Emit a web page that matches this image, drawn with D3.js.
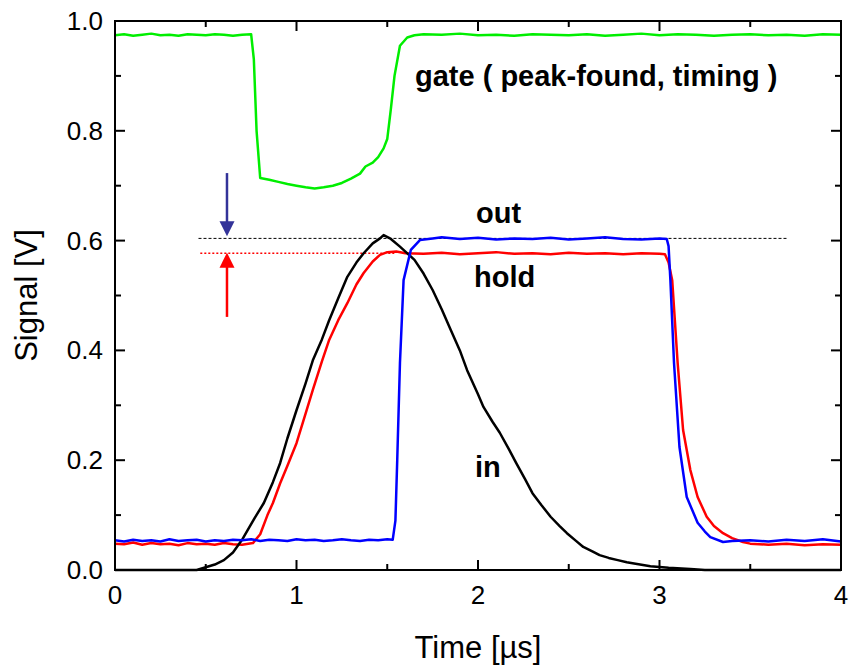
<!DOCTYPE html>
<html>
<head>
<meta charset="utf-8">
<script src="https://cdn.jsdelivr.net/npm/d3@7"></script>
<style>
  body { margin: 0; background: #fff; }
  svg { font-family: Arial, "Liberation Sans", sans-serif; }
  .lbl { font-weight: bold; font-size: 29px; fill: #000; }
</style>
</head>
<body>
<svg id="chart" width="850" height="668"></svg>
<script>
// axis ticks
var xTicks = [0, 1, 2, 3, 4];
var yTicks = [0.0, 0.2, 0.4, 0.6, 0.8, 1.0];

// gate (green)
var gateT = [0,0.05,0.1,0.15,0.2,0.25,0.3,0.35,0.4,0.45,0.5,0.55,0.6,0.65,0.7,0.75,0.765,0.78,0.8,0.85,0.9,0.95,1.0,1.05,1.1,1.15,1.2,1.25,1.3,1.35,1.38,1.42,1.45,1.48,1.5,1.52,1.54,1.57,1.61,1.65,1.7,1.8,1.9,2.0,2.1,2.2,2.3,2.4,2.5,2.6,2.7,2.8,2.9,3.0,3.1,3.2,3.3,3.4,3.5,3.6,3.7,3.8,3.9,4.0];
var gateV = [0.974,0.976,0.973,0.975,0.977,0.974,0.975,0.973,0.976,0.975,0.974,0.976,0.975,0.973,0.975,0.976,0.93,0.80,0.714,0.711,0.707,0.703,0.700,0.697,0.695,0.697,0.700,0.705,0.713,0.722,0.735,0.742,0.752,0.768,0.785,0.84,0.90,0.955,0.970,0.974,0.976,0.975,0.977,0.974,0.975,0.973,0.976,0.975,0.974,0.976,0.973,0.975,0.977,0.974,0.976,0.975,0.973,0.975,0.976,0.974,0.975,0.973,0.976,0.975];

// in (black)
var inT = [0,0.45,0.5,0.55,0.6,0.65,0.7,0.73,0.77,0.82,0.87,0.91,0.95,1.0,1.05,1.09,1.14,1.18,1.23,1.28,1.33,1.37,1.42,1.46,1.48,1.52,1.57,1.6,1.65,1.7,1.75,1.8,1.85,1.9,1.94,2.0,2.03,2.08,2.12,2.17,2.21,2.26,2.3,2.35,2.4,2.45,2.49,2.54,2.58,2.63,2.67,2.72,2.77,2.82,2.86,2.95,3.05,3.17,3.25,4.0];
var inV = [0,0,0.005,0.01,0.018,0.032,0.055,0.072,0.095,0.122,0.16,0.195,0.24,0.291,0.34,0.382,0.42,0.455,0.495,0.534,0.56,0.577,0.595,0.604,0.610,0.603,0.589,0.58,0.565,0.54,0.51,0.475,0.437,0.40,0.364,0.32,0.297,0.27,0.25,0.22,0.195,0.165,0.14,0.118,0.097,0.08,0.067,0.053,0.042,0.034,0.027,0.022,0.018,0.014,0.012,0.007,0.004,0.002,0,0];

// hold (red)
var holdT = [0,0.05,0.1,0.15,0.2,0.25,0.3,0.35,0.4,0.45,0.5,0.55,0.6,0.65,0.7,0.76,0.8,0.84,0.87,0.91,0.95,1.0,1.05,1.09,1.14,1.18,1.23,1.28,1.33,1.37,1.42,1.46,1.5,1.55,1.6,1.7,1.8,1.9,2.0,2.1,2.2,2.3,2.4,2.5,2.6,2.7,2.8,2.9,3.0,3.03,3.05,3.07,3.10,3.13,3.17,3.21,3.26,3.3,3.35,3.4,3.46,3.5,3.6,3.7,3.8,3.9,4.0];
var holdV = [0.048,0.047,0.050,0.046,0.049,0.047,0.048,0.045,0.049,0.047,0.048,0.046,0.049,0.047,0.046,0.049,0.065,0.10,0.122,0.158,0.19,0.231,0.285,0.328,0.38,0.419,0.455,0.486,0.52,0.541,0.562,0.574,0.579,0.580,0.577,0.576,0.578,0.575,0.577,0.579,0.576,0.577,0.575,0.578,0.576,0.577,0.575,0.577,0.576,0.575,0.56,0.528,0.377,0.255,0.182,0.133,0.097,0.08,0.067,0.058,0.051,0.048,0.046,0.048,0.045,0.047,0.046];

// out (blue)
var outT = [0,0.05,0.1,0.15,0.2,0.25,0.3,0.35,0.4,0.45,0.5,0.55,0.6,0.65,0.7,0.75,0.8,0.85,0.9,0.95,1.0,1.05,1.1,1.15,1.2,1.25,1.3,1.35,1.4,1.45,1.5,1.53,1.545,1.555,1.57,1.59,1.63,1.68,1.75,1.8,1.9,2.0,2.1,2.2,2.3,2.4,2.5,2.6,2.7,2.8,2.9,3.0,3.04,3.05,3.06,3.08,3.11,3.15,3.21,3.25,3.28,3.35,3.4,3.5,3.6,3.7,3.8,3.9,4.0];
var outV = [0.054,0.052,0.055,0.053,0.054,0.052,0.056,0.053,0.054,0.055,0.052,0.054,0.053,0.055,0.054,0.056,0.053,0.055,0.054,0.053,0.056,0.054,0.055,0.053,0.054,0.056,0.054,0.053,0.055,0.054,0.056,0.055,0.09,0.2,0.377,0.528,0.583,0.601,0.604,0.606,0.603,0.605,0.602,0.604,0.603,0.605,0.602,0.604,0.606,0.603,0.602,0.604,0.603,0.59,0.528,0.377,0.224,0.133,0.086,0.07,0.06,0.051,0.053,0.054,0.052,0.055,0.053,0.056,0.052];

// marker lines and arrows
var outLevel = 0.604, holdLevel = 0.577;
var arrowX = 0.617;

var svg = d3.select("#chart"),
    margin = {top: 21, right: 9, bottom: 98, left: 115},
    width = +svg.attr("width") - margin.left - margin.right,
    height = +svg.attr("height") - margin.top - margin.bottom;

var x = d3.scaleLinear().domain([0, 4]).range([0, width]);
var y = d3.scaleLinear().domain([0, 1]).range([height, 0]);

var g = svg.append("g")
    .attr("transform", "translate(" + margin.left + "," + margin.top + ")");

var line = d3.line().x(d => x(d[0])).y(d => y(d[1]));
function pairs(t, v) { return t.map((d, i) => [d, v[i]]); }

// dashed / dotted level lines
g.append("line")
    .attr("x1", x(0.46)).attr("x2", x(3.71))
    .attr("y1", y(outLevel)).attr("y2", y(outLevel))
    .attr("stroke", "#000").attr("stroke-width", 1)
    .attr("stroke-dasharray", "3,2");
g.append("line")
    .attr("x1", x(0.47)).attr("x2", x(1.55))
    .attr("y1", y(holdLevel)).attr("y2", y(holdLevel))
    .attr("stroke", "#f00").attr("stroke-width", 1.6)
    .attr("stroke-dasharray", "2,2");

var series = [
  {t: gateT, v: gateV, c: "#00ee00"},
  {t: holdT, v: holdV, c: "#ff0000"},
  {t: inT, v: inV, c: "#000000"},
  {t: outT, v: outV, c: "#0000ff"}
];
g.selectAll("path.trace").data(series).join("path")
    .attr("class", "trace")
    .attr("d", d => line(pairs(d.t, d.v)))
    .attr("fill", "none")
    .attr("stroke", d => d.c)
    .attr("stroke-width", 2.5)
    .attr("stroke-linejoin", "round");

// arrows
function arrow(from, to, col) {
  var ax = x(arrowX), y0 = y(from), y1 = y(to);
  var dir = y1 > y0 ? 1 : -1;
  g.append("line").attr("x1", ax).attr("x2", ax)
    .attr("y1", y0).attr("y2", y1 - dir * 12)
    .attr("stroke", col).attr("stroke-width", 2.5);
  g.append("path")
    .attr("d", "M" + (ax - 7.5) + "," + (y1 - dir * 15) + "L" + (ax + 7.5) + "," + (y1 - dir * 15) + "L" + ax + "," + y1 + "Z")
    .attr("fill", col);
}
arrow(0.723, 0.608, "#333399");
arrow(0.461, 0.578, "#ff0000");

// frame
g.append("rect").attr("width", width).attr("height", height)
    .attr("fill", "none").attr("stroke", "#000").attr("stroke-width", 2);

// ticks, inward on all four sides
var xMinor = d3.range(0.5, 4, 1), yMinor = d3.range(0.1, 1, 0.2);
function tickLines(vals, len, horiz) {
  vals.forEach(v => {
    if (horiz) {
      var px = x(v);
      g.append("line").attr("x1", px).attr("x2", px).attr("y1", height).attr("y2", height - len).attr("stroke", "#000").attr("stroke-width", 2);
      g.append("line").attr("x1", px).attr("x2", px).attr("y1", 0).attr("y2", len).attr("stroke", "#000").attr("stroke-width", 2);
    } else {
      var py = y(v);
      g.append("line").attr("x1", 0).attr("x2", len).attr("y1", py).attr("y2", py).attr("stroke", "#000").attr("stroke-width", 2);
      g.append("line").attr("x1", width).attr("x2", width - len).attr("y1", py).attr("y2", py).attr("stroke", "#000").attr("stroke-width", 2);
    }
  });
}
tickLines(xTicks, 10, true);
tickLines(xMinor, 6, true);
tickLines(yTicks, 10, false);
tickLines(yMinor, 6, false);

// tick labels
g.selectAll("text.xt").data(xTicks).join("text")
    .attr("class", "xt")
    .attr("x", d => x(d)).attr("y", height + 34)
    .attr("text-anchor", "middle").attr("font-size", 26)
    .text(d => d);
g.selectAll("text.yt").data(yTicks).join("text")
    .attr("class", "yt")
    .attr("x", -12).attr("y", d => y(d) + 9)
    .attr("text-anchor", "end").attr("font-size", 26)
    .text(d => d.toFixed(1));

// axis titles
g.append("text")
    .attr("x", width / 2).attr("y", height + 88)
    .attr("text-anchor", "middle").attr("font-size", 31)
    .text("Time [µs]");
g.append("text")
    .attr("transform", "translate(" + (-78) + "," + (height / 2) + ") rotate(-90)")
    .attr("text-anchor", "middle").attr("font-size", 31)
    .text("Signal [V]");

// curve labels
svg.append("text").attr("class", "lbl").attr("x", 415).attr("y", 86).text("gate ( peak-found, timing )");
svg.append("text").attr("class", "lbl").attr("x", 476).attr("y", 223).text("out");
svg.append("text").attr("class", "lbl").attr("x", 474).attr("y", 287).text("hold");
svg.append("text").attr("class", "lbl").attr("x", 475).attr("y", 477).text("in");
</script>
</body>
</html>
